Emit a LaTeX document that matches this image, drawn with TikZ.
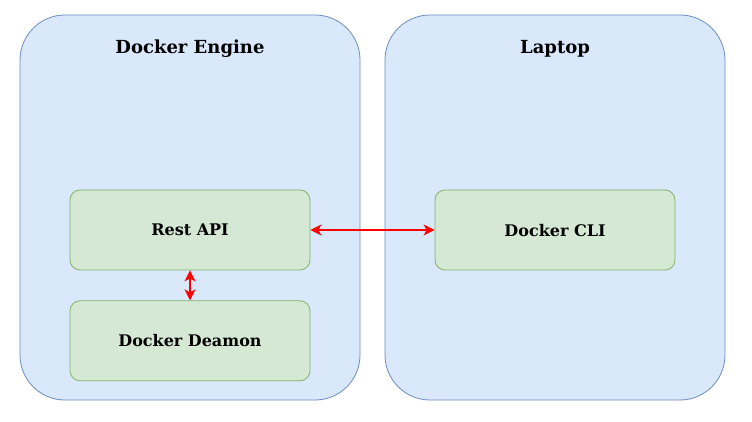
\documentclass[tikz,border=0pt]{standalone}
\usepackage{fontspec}
\setmainfont{DejaVu Serif}
\usetikzlibrary{arrows.meta,positioning}
\definecolor{boxblue}{HTML}{DAE8FC}
\definecolor{lineblue}{HTML}{6C8EBF}
\definecolor{boxgreen}{HTML}{D5E8D4}
\definecolor{linegreen}{HTML}{82B366}
\tikzset{
  host/.style={draw=lineblue,fill=boxblue,rounded corners=45pt,minimum width=340pt,minimum height=385pt,line width=0.8pt},
  part/.style={draw=linegreen,fill=boxgreen,rounded corners=10pt,minimum width=240pt,minimum height=80pt,line width=0.8pt,text depth=0pt,font=\fontsize{16}{19}\selectfont\bfseries},
  title/.style={font=\fontsize{18}{21}\selectfont\bfseries},
  link/.style={{Stealth[length=11pt,width=11pt,inset=3pt]}-{Stealth[length=11pt,width=11pt,inset=3pt]},red,line width=1.6pt}
}
\begin{document}
\begin{tikzpicture}[x=1pt,y=-1pt]
      \useasboundingbox (0,0) rectangle (752,422);
      \node[host] (engine) at (190,207.5) {}; % docker engine box
      \node[host] (laptop) at (555,207.5) {}; % laptop box
      \node[title] (enginetitle) at (190,49) {Docker Engine}; % engine label
      \node[title] (laptoptitle) at (555,49) {Laptop}; % laptop label
      \node[part] (restapi) at (190,230) {Rest API}; % rest api
      \node[part,below=30pt of restapi] (deamon) {Docker Deamon}; % deamon
      \node[part] (cli) at (555,230) {Docker CLI}; % cli
      \draw[link] (restapi) -- (cli); % api to cli
      \draw[link] (restapi) -- (deamon); % api to deamon
\end{tikzpicture}
\end{document}
